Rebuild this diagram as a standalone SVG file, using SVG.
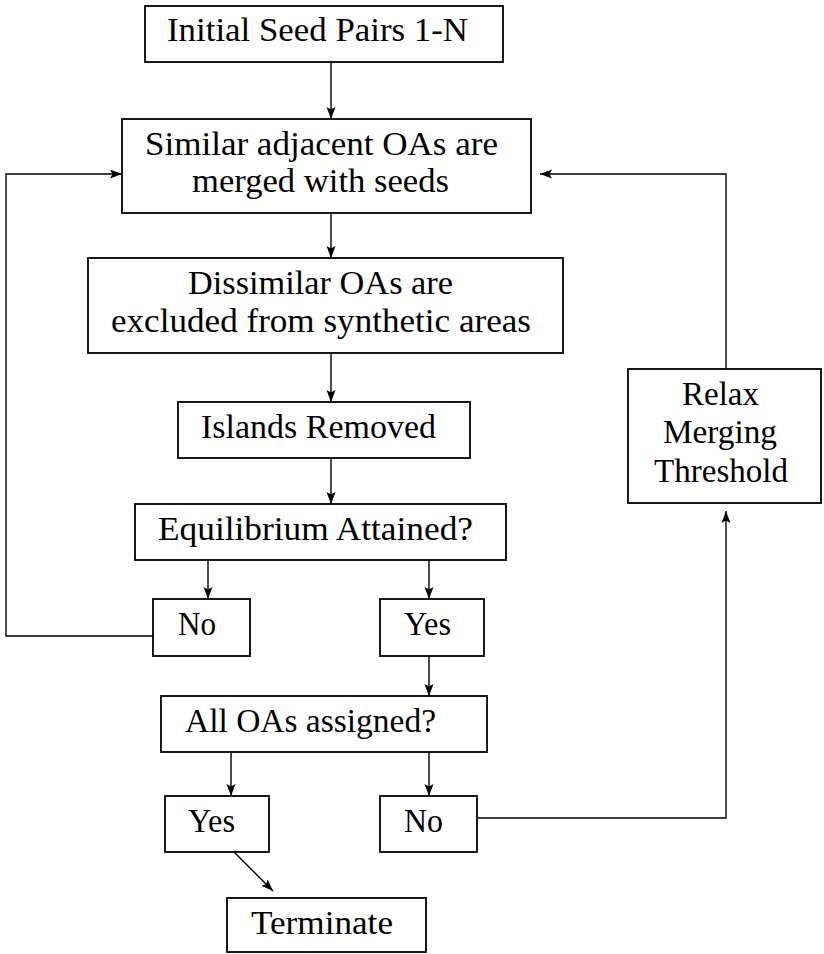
<svg xmlns="http://www.w3.org/2000/svg" width="824" height="954" viewBox="0 0 824 954">
<style>
.box{fill:#fff;stroke:#000;stroke-width:1.8}
.t{font-family:"Liberation Serif","Times New Roman",serif;font-size:33px;fill:#000}
.c{fill:none;stroke:#000;stroke-width:1.4}
</style>
<defs>
<marker id="ah" markerUnits="userSpaceOnUse" markerWidth="12" markerHeight="10" refX="12" refY="4.5" orient="auto">
<path d="M0,0 L12,4.5 L0,9 L2.5,4.5 z" fill="#000"/>
</marker>
</defs>
<rect width="824" height="954" fill="#fff"/>
<g id="connectors">
<line class="c" x1="331" y1="62" x2="331" y2="119" marker-end="url(#ah)"/>
<line class="c" x1="331" y1="213" x2="331" y2="258" marker-end="url(#ah)"/>
<line class="c" x1="331" y1="353" x2="331" y2="402" marker-end="url(#ah)"/>
<line class="c" x1="331" y1="458" x2="331" y2="504" marker-end="url(#ah)"/>
<line class="c" x1="208" y1="560" x2="208" y2="599" marker-end="url(#ah)"/>
<line class="c" x1="429" y1="560" x2="429" y2="599" marker-end="url(#ah)"/>
<line class="c" x1="429" y1="656" x2="429" y2="696" marker-end="url(#ah)"/>
<line class="c" x1="231" y1="752" x2="231" y2="796" marker-end="url(#ah)"/>
<line class="c" x1="429" y1="752" x2="429" y2="796" marker-end="url(#ah)"/>
<line class="c" x1="234" y1="852" x2="273" y2="891" marker-end="url(#ah)"/>
<polyline class="c" points="153,636 6,636 6,174 122,174" marker-end="url(#ah)"/>
<polyline class="c" points="477,818 726,818 726,511" marker-end="url(#ah)"/>
<polyline class="c" points="726,369 726,174 540,174" marker-end="url(#ah)"/>
</g>
<g id="n1"><rect class="box" x="145" y="6" width="358" height="56"/><text class="t" x="167" y="41" textLength="301" lengthAdjust="spacingAndGlyphs">Initial Seed Pairs 1-N</text></g>
<g id="n2"><rect class="box" x="122" y="119" width="409" height="94"/><text class="t" x="145" y="155" textLength="353" lengthAdjust="spacingAndGlyphs">Similar adjacent OAs are</text><text class="t" x="192" y="192" textLength="257" lengthAdjust="spacingAndGlyphs">merged with seeds</text></g>
<g id="n3"><rect class="box" x="88" y="258" width="475" height="95"/><text class="t" x="188" y="294" textLength="265" lengthAdjust="spacingAndGlyphs">Dissimilar OAs are</text><text class="t" x="111" y="332" textLength="420" lengthAdjust="spacingAndGlyphs">excluded from synthetic areas</text></g>
<g id="n4"><rect class="box" x="178" y="402" width="292" height="56"/><text class="t" x="201" y="438" textLength="235" lengthAdjust="spacingAndGlyphs">Islands Removed</text></g>
<g id="n5"><rect class="box" x="135" y="504" width="371" height="56"/><text class="t" x="158" y="540" textLength="315" lengthAdjust="spacingAndGlyphs">Equilibrium Attained?</text></g>
<g id="n6"><rect class="box" x="153" y="599" width="97" height="57"/><text class="t" x="178" y="635" textLength="38" lengthAdjust="spacingAndGlyphs">No</text></g>
<g id="n7"><rect class="box" x="380" y="599" width="104" height="57"/><text class="t" x="404" y="635" textLength="47" lengthAdjust="spacingAndGlyphs">Yes</text></g>
<g id="n8"><rect class="box" x="161" y="696" width="326" height="56"/><text class="t" x="185" y="732" textLength="251" lengthAdjust="spacingAndGlyphs">All OAs assigned?</text></g>
<g id="n9"><rect class="box" x="165" y="796" width="104" height="56"/><text class="t" x="188" y="832" textLength="47" lengthAdjust="spacingAndGlyphs">Yes</text></g>
<g id="n10"><rect class="box" x="380" y="796" width="97" height="56"/><text class="t" x="404" y="832" textLength="39" lengthAdjust="spacingAndGlyphs">No</text></g>
<g id="n11"><rect class="box" x="227" y="898" width="199" height="54"/><text class="t" x="251" y="934" textLength="142" lengthAdjust="spacingAndGlyphs">Terminate</text></g>
<g id="n12"><rect class="box" x="628" y="369" width="193" height="134"/><text class="t" x="682" y="405" textLength="77" lengthAdjust="spacingAndGlyphs">Relax</text><text class="t" x="663" y="443" textLength="114" lengthAdjust="spacingAndGlyphs">Merging</text><text class="t" x="654" y="482" textLength="134" lengthAdjust="spacingAndGlyphs">Threshold</text></g>
</svg>
